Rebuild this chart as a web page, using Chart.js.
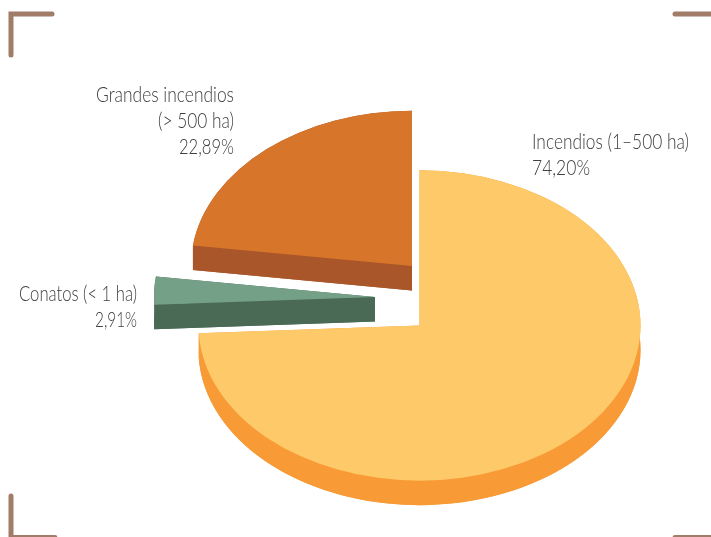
<!DOCTYPE html>
<html>
<head>
<meta charset="utf-8">
<script src="https://cdn.jsdelivr.net/npm/chart.js@4.4.1/dist/chart.umd.min.js"></script>
<style>
  html, body { margin: 0; padding: 0; background: #ffffff; }
  #wrap { position: relative; width: 711px; height: 537px; }
  canvas { display: block; }
</style>
</head>
<body>
<div id="wrap"><canvas id="c" width="711" height="537"></canvas></div>
<script>
// ---- data ----
const categories = ['Incendios (1–500 ha)', 'Conatos (< 1 ha)', 'Grandes incendios (> 500 ha)'];
const labelLines = [['Incendios (1–500 ha)'], ['Conatos (< 1 ha)'], ['Grandes incendios', '(> 500 ha)']];
const values = [74.20, 2.91, 22.89];

// ---- style ----
const topColors  = ['#FEC968', '#75A088', '#D7752A'];
const sideColors = ['#F89A36', '#4B6A56', '#A9562A'];
const TILT = 0.702;
const DEPTH = 24.5;
const explode = [[0, 0], [-44.5, -28.5], [-7.5, -59.5]]; // offsets of exploded slices, px
const drawOrder = [2, 1, 0];
const textColor = '#404040';
const FONT = '300 22px Lato, "Open Sans", sans-serif';
// label layout: anchor x, align, first baseline, line gap, max widths per line
const labelLayout = [
  { x: 532, align: 'left',  y: 149, gap: 26, widths: [157, 58] },
  { x: 137, align: 'right', y: 301, gap: 26, widths: [118, 42] },
  { x: 234, align: 'right', y: 102, gap: 26, widths: [138, 76, 55] }
];
const bracketColor = '#A07C69';

function pct(v) { return v.toFixed(2).replace('.', ',') + '%'; }

function drawSlice(ctx, a, dx, dy, top, side) {
  const cx = a.x + dx, cy = a.y + dy;
  const r = a.outerRadius, ry = r * TILT;
  const s = a.startAngle, e = a.endAngle;
  const ps = [cx + r * Math.cos(s), cy + ry * Math.sin(s)];
  const pe = [cx + r * Math.cos(e), cy + ry * Math.sin(e)];
  ctx.fillStyle = side;
  // bottom copy
  ctx.beginPath();
  ctx.moveTo(cx, cy + DEPTH);
  ctx.ellipse(cx, cy + DEPTH, r, ry, 0, s, e);
  ctx.closePath();
  ctx.fill();
  // radial faces
  [ps, pe].forEach(p => {
    ctx.beginPath();
    ctx.moveTo(cx, cy);
    ctx.lineTo(p[0], p[1]);
    ctx.lineTo(p[0], p[1] + DEPTH);
    ctx.lineTo(cx, cy + DEPTH);
    ctx.closePath();
    ctx.fill();
  });
  // curved band
  ctx.beginPath();
  ctx.ellipse(cx, cy, r, ry, 0, s, e);
  ctx.ellipse(cx, cy + DEPTH, r, ry, 0, e, s, true);
  ctx.closePath();
  ctx.fill();
  // top face
  ctx.fillStyle = top;
  ctx.beginPath();
  ctx.moveTo(cx, cy);
  ctx.ellipse(cx, cy, r, ry, 0, s, e);
  ctx.closePath();
  ctx.fill();
}

const pie3d = {
  id: 'pie3d',
  beforeDraw(chart) {
    const ctx = chart.ctx;
    ctx.save();
    ctx.fillStyle = '#ffffff';
    ctx.fillRect(0, 0, chart.width, chart.height);
    ctx.strokeStyle = bracketColor;
    ctx.lineWidth = 5;
    ctx.lineCap = 'round';
    ctx.lineJoin = 'miter';
    ctx.beginPath();
    ctx.moveTo(11, 55); ctx.lineTo(11, 14); ctx.lineTo(52, 14);
    ctx.stroke();
    ctx.beginPath();
    ctx.moveTo(675, 14); ctx.lineTo(715, 14);
    ctx.stroke();
    ctx.beginPath();
    ctx.moveTo(11, 496); ctx.lineTo(11, 537.5); ctx.lineTo(55, 537.5);
    ctx.stroke();
    ctx.beginPath();
    ctx.moveTo(675, 537.5); ctx.lineTo(715, 537.5);
    ctx.stroke();
    ctx.restore();
  },
  beforeDatasetsDraw(chart) {
    const ctx = chart.ctx;
    const arcs = chart.getDatasetMeta(0).data;
    ctx.save();
    drawOrder.forEach(i => {
      drawSlice(ctx, arcs[i], explode[i][0], explode[i][1], topColors[i], sideColors[i]);
    });
    ctx.restore();
    return false;
  },
  afterDraw(chart) {
    const ctx = chart.ctx;
    ctx.save();
    ctx.font = FONT;
    ctx.fillStyle = textColor;
    ctx.textBaseline = 'alphabetic';
    labelLayout.forEach((L, i) => {
      const lines = labelLines[i].concat([pct(values[i])]);
      ctx.textAlign = L.align;
      lines.forEach((t, k) => {
        ctx.fillText(t, L.x, L.y + k * L.gap, L.widths[k]);
      });
    });
    ctx.restore();
  }
};

new Chart(document.getElementById('c'), {
  type: 'pie',
  data: {
    labels: categories,
    datasets: [{
      data: values,
      backgroundColor: topColors,
      borderWidth: 0,
      radius: 221
    }]
  },
  options: {
    responsive: false,
    animation: false,
    layout: { padding: { left: 128, right: 0, top: 114, bottom: 0 } },
    plugins: {
      legend: { display: false },
      tooltip: { enabled: false }
    }
  },
  plugins: [pie3d]
});
</script>
</body>
</html>
